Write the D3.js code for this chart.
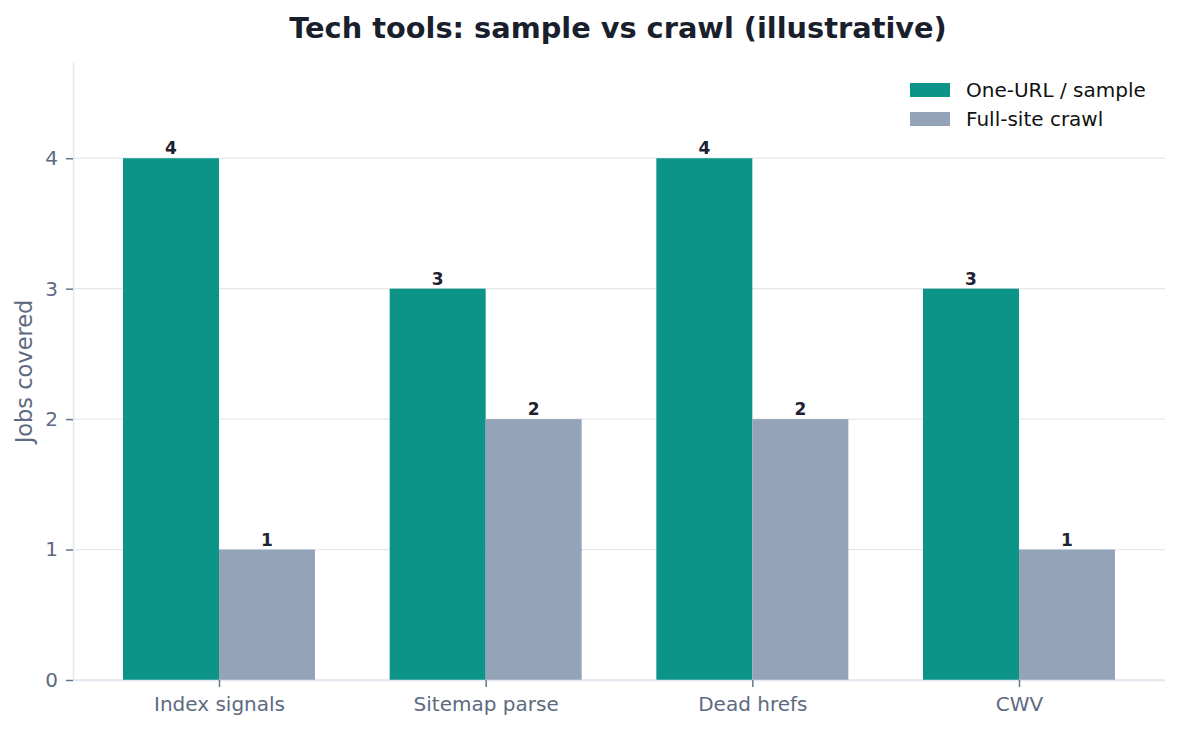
<!DOCTYPE html>
<html>
<head>
<meta charset="UTF-8">
<title>Tech tools: sample vs crawl</title>
<script src="https://d3js.org/d3.v7.min.js"></script>
<style>
  body { margin: 0; background: #fff; }
  text { font-family: "DejaVu Sans", sans-serif; }
</style>
</head>
<body>
<div id="chart"></div>
<script>
// chart data
var categories = ["Index signals", "Sitemap parse", "Dead hrefs", "CWV"]
var seriesNames = ["One-URL / sample", "Full-site crawl"]
var sampleValues = [4, 3, 4, 3]
var crawlValues = [1, 2, 2, 1]
var yTicks = [0, 1, 2, 3, 4]

var colors = ["#0d9488", "#94a3b8"]

var width = 1180, height = 731
var margin = { top: 63, right: 15, bottom: 51, left: 73 }
var plotW = width - margin.left - margin.right
var plotH = height - margin.top - margin.bottom

var svg = d3.select("#chart").append("svg")
  .attr("width", width)
  .attr("height", height)

var g = svg.append("g")
  .attr("transform", "translate(" + margin.left + "," + margin.top + ")")

// x is a linear scale over category index, like matplotlib's bar positions
var x = d3.scaleLinear().domain([-0.5475, 3.5475]).range([0, plotW])
var y = d3.scaleLinear().domain([0, 4.73]).range([plotH, 0])
var barW = 0.36

// grid
g.selectAll(".grid").data(yTicks).enter()
  .append("line")
  .attr("x1", 0).attr("x2", plotW)
  .attr("y1", function(d) { return y(d) })
  .attr("y2", function(d) { return y(d) })
  .attr("stroke", "#e5e7eb")
  .attr("stroke-width", 1.3)

// bars
var series = [sampleValues, crawlValues]
series.forEach(function(vals, s) {
  var off = s === 0 ? -barW : 0
  g.selectAll(".bar" + s).data(vals).enter()
    .append("rect")
    .attr("x", function(d, i) { return x(i + off) })
    .attr("width", x(barW) - x(0))
    .attr("y", function(d) { return y(d) })
    .attr("height", function(d) { return y(0) - y(d) })
    .attr("fill", colors[s])

  g.selectAll(".lab" + s).data(vals).enter()
    .append("text")
    .attr("x", function(d, i) { return x(i + off + barW / 2) })
    .attr("y", function(d) { return y(d) - 4 })
    .attr("text-anchor", "middle")
    .attr("font-size", 17)
    .attr("font-weight", "bold")
    .attr("fill", "#1e2130")
    .text(function(d) { return d })
})

// axes
var yAxis = g.append("g")
  .call(d3.axisLeft(y).tickValues(yTicks).tickFormat(d3.format("d"))
    .tickSize(7).tickPadding(8))
var xAxis = g.append("g")
  .attr("transform", "translate(0," + plotH + ")")
  .call(d3.axisBottom(x).tickValues(d3.range(categories.length))
    .tickFormat(function(i) { return categories[i] }).tickSize(7).tickPadding(10))

;[yAxis, xAxis].forEach(function(a) {
  a.attr("font-family", null).attr("font-size", null)
  a.select(".domain").attr("stroke", "#e2e8f0").attr("stroke-width", 1.5)
  a.selectAll(".tick line").attr("stroke", "#64748b").attr("stroke-width", 1.5)
  a.selectAll(".tick text").attr("fill", "#5e6a80").attr("font-size", 20)
})
// trim the domain paths to the plot (no outer ticks)
yAxis.select(".domain").attr("d", "M0.5," + plotH + "V0")
xAxis.select(".domain").attr("d", "M0,0.5H" + plotW)

// y label
svg.append("text")
  .attr("transform", "translate(32," + (margin.top + plotH / 2) + ") rotate(-90)")
  .attr("text-anchor", "middle")
  .attr("font-size", 22.5)
  .attr("fill", "#5e6a80")
  .text("Jobs covered")

// title
svg.append("text")
  .attr("x", 618).attr("y", 38)
  .attr("text-anchor", "middle")
  .attr("font-size", 28.8)
  .attr("font-weight", "bold")
  .attr("fill", "#1a1f2e")
  .text("Tech tools: sample vs crawl (illustrative)")

// legend
var legend = svg.append("g").attr("transform", "translate(910,83)")
seriesNames.forEach(function(name, i) {
  legend.append("rect")
    .attr("x", 0).attr("y", i * 29)
    .attr("width", 40).attr("height", 14)
    .attr("fill", colors[i])
  legend.append("text")
    .attr("x", 56).attr("y", i * 29 + 14)
    .attr("font-size", 20)
    .attr("fill", "#111")
    .text(name)
})
</script>
</body>
</html>
